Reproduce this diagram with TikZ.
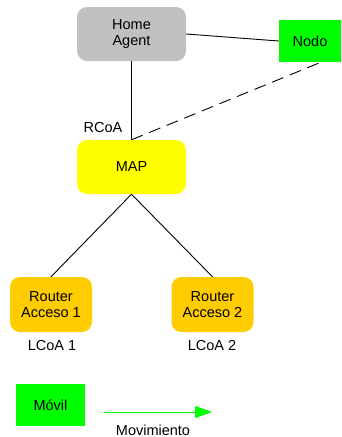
\documentclass[tikz,border=0pt]{standalone}
\usepackage{fontspec}
\setmainfont{Liberation Sans}
\usetikzlibrary{arrows.meta}
\definecolor{hagray}{HTML}{C0C0C0}
\definecolor{mapyellow}{HTML}{FFFF00}
\definecolor{routeror}{HTML}{FFCC00}
\definecolor{nodogreen}{HTML}{00FF00}
\begin{document}
\begin{tikzpicture}[x=1pt,y=-1pt,
  every node/.style={font=\fontsize{14.5}{16.5}\selectfont, inner sep=0pt, align=center},
  rbox/.style={rounded corners=10pt, minimum width=109pt, minimum height=54pt},
  gbox/.style={fill=nodogreen},
  conn/.style={line width=0.9pt, black}]
\useasboundingbox (0,0) rectangle (342,437);
\node[rbox, fill=hagray] (ha) at (131.5,34) {Home\\Agent};
\node[gbox, minimum width=62pt, minimum height=42pt] (nodo) at (310,41) {Nodo};
\node[rbox, fill=mapyellow] (map) at (131.5,167) {MAP};
\node[rbox, fill=routeror, minimum width=82pt, minimum height=55pt] (r1) at (51,304.5) {Router\\Acceso 1};
\node[rbox, fill=routeror, minimum width=82pt, minimum height=55pt] (r2) at (212.5,304.5) {Router\\Acceso 2};
\node (rcoa) at (103,128) {RCoA};
\node (l1) at (52,346) {LCoA 1};
\node (l2) at (212,346) {LCoA 2};
\node[gbox, minimum width=69pt, minimum height=42pt] (movil) at (50.5,405) {Móvil};
\coordinate (a1) at (104,412);
\coordinate (a2) at (212,412);
\node (mov) at (153,430) {Movimiento};
\draw[conn] (ha.east) -- (nodo.west);
\draw[conn] (ha.south) -- (map.north);
\draw[conn, dash pattern=on 12pt off 7pt] (map.north) -- ([xshift=11pt]nodo.south);
\draw[conn] (map.south) -- (r1.north);
\draw[conn] (map.south) -- (r2.north);
\draw[line width=1pt, nodogreen, -{Triangle[length=17pt,width=12pt]}] (a1) -- (a2);
\end{tikzpicture}
\end{document}
